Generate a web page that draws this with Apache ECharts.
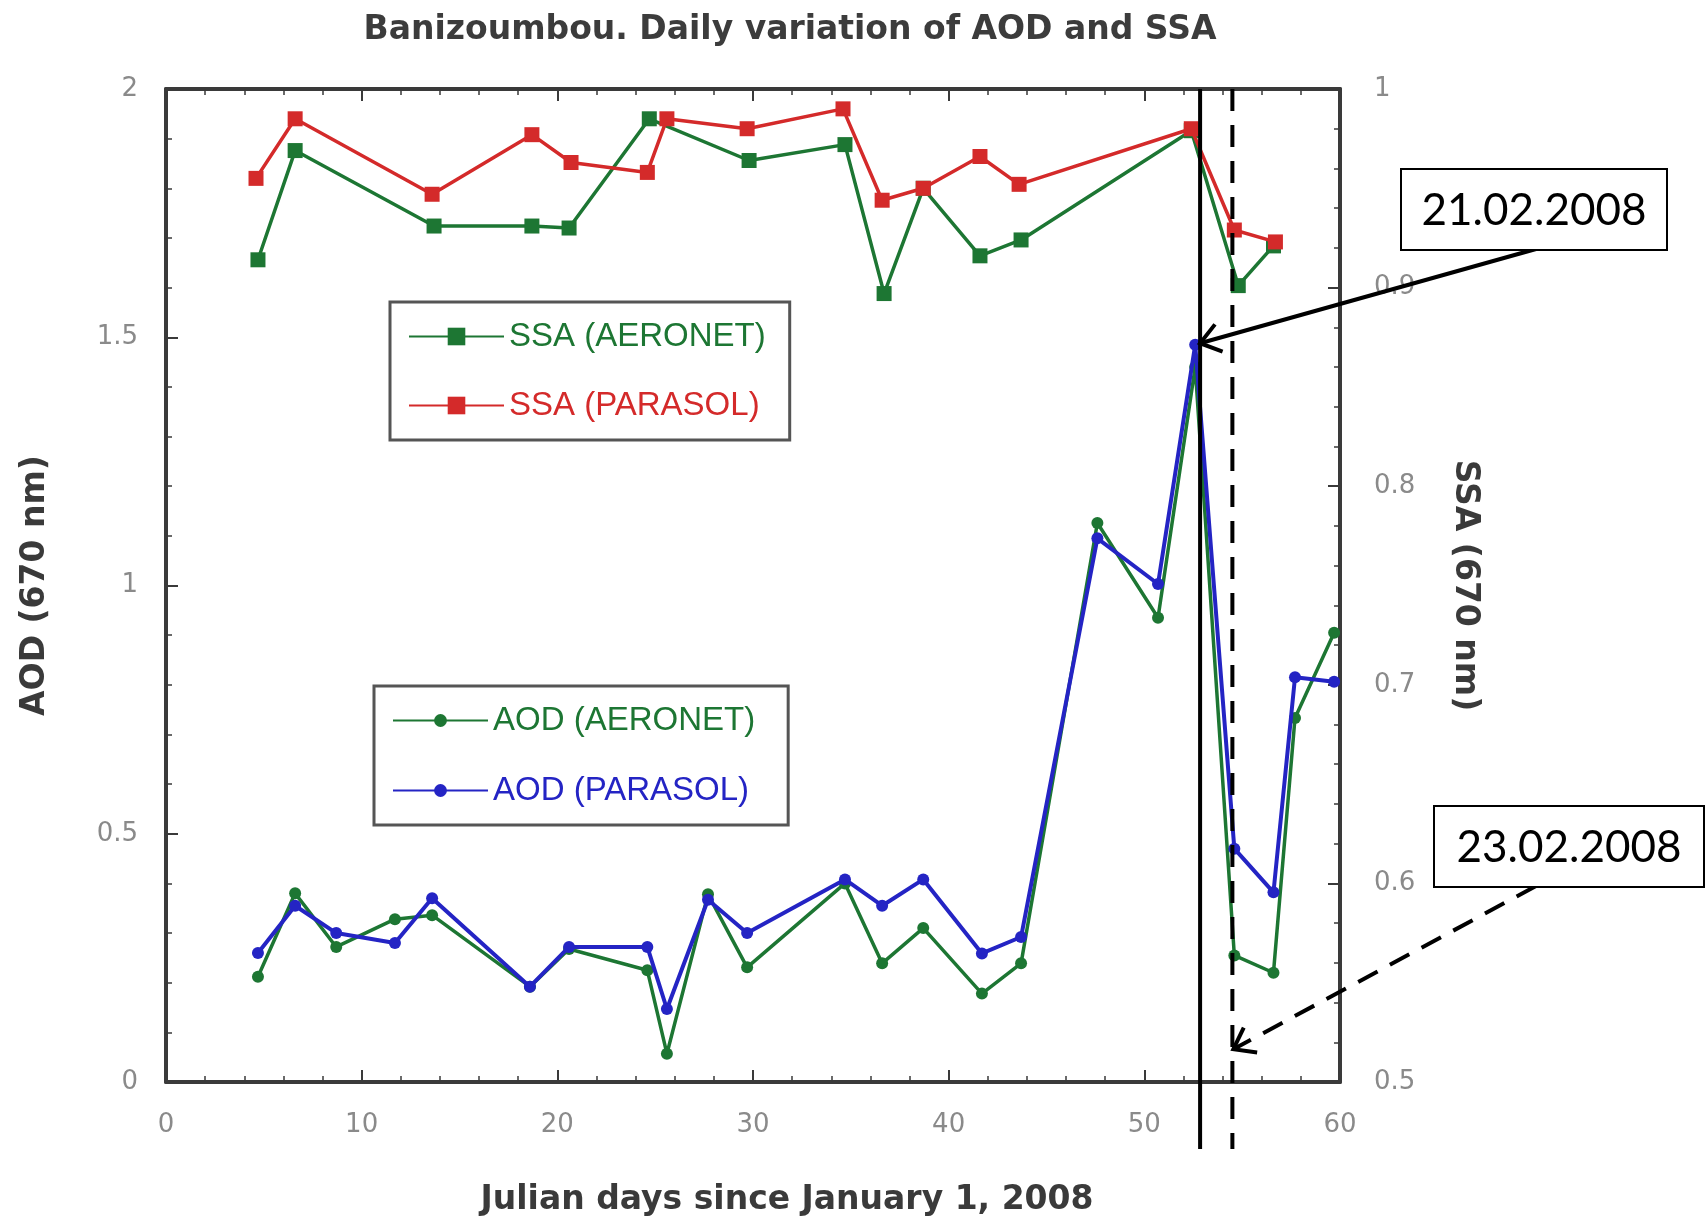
<!DOCTYPE html>
<html><head><meta charset="utf-8">
<script src="https://cdn.jsdelivr.net/npm/echarts/dist/echarts.min.js"></script>
<style>html,body{margin:0;padding:0;background:#fff;}#c{width:1708px;height:1223px;}</style>
</head><body><div id="c"></div>
<script>
// ---- data ----
const chartTitle = 'Banizoumbou. Daily variation of AOD and SSA';
const xName = 'Julian days since January 1, 2008';
const yLeftName = 'AOD (670 nm)';
const yRightName = 'SSA (670 nm)';

const ssaAeronetDays = [4.7, 6.6, 13.7, 18.7, 20.6, 24.7, 29.8, 34.7, 36.7, 38.7, 41.6, 43.7, 52.4, 54.8, 56.6];
const ssaAeronet     = [0.914, 0.969, 0.931, 0.931, 0.930, 0.985, 0.964, 0.972, 0.897, 0.950, 0.916, 0.924, 0.979, 0.901, 0.921];

const ssaParasolDays = [4.6, 6.6, 13.6, 18.7, 20.7, 24.6, 25.6, 29.7, 34.6, 36.6, 38.7, 41.6, 43.6, 52.4, 54.6, 56.7];
const ssaParasol     = [0.955, 0.985, 0.947, 0.977, 0.963, 0.958, 0.985, 0.980, 0.990, 0.944, 0.950, 0.966, 0.952, 0.980, 0.929, 0.923];

const aodDays    = [4.7, 6.6, 8.7, 11.7, 13.6, 18.6, 20.6, 24.6, 25.6, 27.7, 29.7, 34.7, 36.6, 38.7, 41.7, 43.7, 47.6, 50.7, 52.6, 54.6, 56.6, 57.7, 59.7];
const aodParasol = [0.26, 0.355, 0.30, 0.28, 0.37, 0.192, 0.272, 0.272, 0.147, 0.367, 0.30, 0.408, 0.355, 0.408, 0.259, 0.292, 1.095, 1.003, 1.485, 0.47, 0.382, 0.815, 0.806];
const aodAeronet = [0.212, 0.38, 0.272, 0.328, 0.336, 0.192, 0.268, 0.225, 0.057, 0.378, 0.231, 0.40, 0.239, 0.31, 0.178, 0.239, 1.126, 0.935, 1.44, 0.255, 0.22, 0.733, 0.905];

const seriesNames = ['SSA (AERONET)', 'SSA (PARASOL)', 'AOD (AERONET)', 'AOD (PARASOL)'];

// annotation dates (day positions of the vertical marker lines) and labels
const markDays = [52.85, 54.5];
const markLabels = ['21.02.2008', '23.02.2008'];
const arrowTargets = [[52.85, 1.488], [54.55, 0.066]]; // [day, AOD]

// ---- styles ----
const GREEN = '#1d7633', RED = '#d42a2a', BLUE = '#2424c4';
const AX = '#3a3a3a', TICKC = '#8a8a8a';
const FONT = '"Liberation Sans",Arial,sans-serif';
const BOLDFONT = '"DejaVu Sans","Liberation Sans",sans-serif';

const pairs = (xs, ys) => xs.map((x, i) => [x, ys[i]]);

const chart = echarts.init(document.getElementById('c'), null, {renderer: 'canvas'});

const commonTick = {show: true, inside: true, length: 12, lineStyle: {color: AX, width: 2}};
const commonMinor = {show: true, splitNumber: 5, length: 6, lineStyle: {color: AX, width: 1.5}};
const axLine = {show: true, onZero: false, lineStyle: {color: AX, width: 4}};
const tickLabel = {fontFamily: BOLDFONT, fontSize: 26, color: TICKC};
const nameStyle = {fontFamily: BOLDFONT, fontWeight: 'bold', fontSize: 33, color: '#3a3a3a'};

const option = {
  animation: false,
  backgroundColor: '#fff',
  title: {
    text: chartTitle, left: 785, top: 9, textAlign: 'center',
    textStyle: {fontFamily: BOLDFONT, fontWeight: 'bold', fontSize: 33, color: '#3c3c3c'}
  },
  grid: {left: 166, right: 368, top: 89, bottom: 141, containLabel: false, outerBoundsMode: 'none'},
  xAxis: [
    {
      type: 'value', min: 0, max: 60, interval: 10, position: 'bottom',
      name: xName, nameLocation: 'middle', nameGap: 102,
      nameTextStyle: Object.assign({}, nameStyle, {padding: [0, 0, 0, 68]}),
      axisLine: axLine, axisTick: commonTick, minorTick: commonMinor,
      splitLine: {show: false},
      axisLabel: Object.assign({}, tickLabel, {margin: 30})
    },
    {
      type: 'value', min: 0, max: 60, interval: 10, position: 'top',
      axisLine: axLine, axisTick: commonTick, minorTick: commonMinor,
      splitLine: {show: false}, axisLabel: {show: false}
    }
  ],
  yAxis: [
    {
      type: 'value', min: 0, max: 2, interval: 0.5, position: 'left',
      name: yLeftName, nameLocation: 'middle', nameGap: 114,
      nameTextStyle: nameStyle,
      axisLine: axLine, axisTick: commonTick, minorTick: commonMinor,
      splitLine: {show: false},
      axisLabel: Object.assign({}, tickLabel, {margin: 28})
    },
    {
      type: 'value', min: 0.5, max: 1, interval: 0.1, position: 'right',
      name: yRightName, nameLocation: 'middle', nameGap: 108, nameRotate: -90,
      nameTextStyle: nameStyle,
      axisLine: axLine, axisTick: commonTick, minorTick: commonMinor,
      splitLine: {show: false},
      axisLabel: Object.assign({}, tickLabel, {margin: 34})
    }
  ],
  legend: [
    {
      selectedMode: false, orient: 'vertical', left: 390, top: 302,
      data: [
        {name: seriesNames[0], textStyle: {color: GREEN}},
        {name: seriesNames[1], textStyle: {color: RED}}
      ],
      itemWidth: 95, itemHeight: 22, itemGap: 36,
      padding: [18, 24, 18, 18],
      borderColor: '#555', borderWidth: 3, backgroundColor: '#fff',
      textStyle: {fontFamily: FONT, fontSize: 33}
    },
    {
      selectedMode: false, orient: 'vertical', left: 374, top: 686,
      data: [
        {name: seriesNames[2], textStyle: {color: GREEN}},
        {name: seriesNames[3], textStyle: {color: BLUE}}
      ],
      itemWidth: 95, itemHeight: 16, itemGap: 37,
      padding: [18, 33, 18, 18],
      borderColor: '#555', borderWidth: 3, backgroundColor: '#fff',
      textStyle: {fontFamily: FONT, fontSize: 33}
    }
  ],
  series: [
    {
      name: seriesNames[0], type: 'line', xAxisIndex: 0, yAxisIndex: 1,
      data: pairs(ssaAeronetDays, ssaAeronet),
      symbol: 'rect', symbolSize: 15, showAllSymbol: true,
      lineStyle: {color: GREEN, width: 3.5}, itemStyle: {color: GREEN}, z: 2
    },
    {
      name: seriesNames[1], type: 'line', xAxisIndex: 0, yAxisIndex: 1,
      data: pairs(ssaParasolDays, ssaParasol),
      symbol: 'rect', symbolSize: 15, showAllSymbol: true,
      lineStyle: {color: RED, width: 3.5}, itemStyle: {color: RED}, z: 3
    },
    {
      name: seriesNames[2], type: 'line', xAxisIndex: 0, yAxisIndex: 0,
      data: pairs(aodDays, aodAeronet),
      symbol: 'circle', symbolSize: 12, showAllSymbol: true,
      lineStyle: {color: GREEN, width: 3.5}, itemStyle: {color: GREEN}, z: 4
    },
    {
      name: seriesNames[3], type: 'line', xAxisIndex: 0, yAxisIndex: 0,
      data: pairs(aodDays, aodParasol),
      symbol: 'circle', symbolSize: 12, showAllSymbol: true,
      lineStyle: {color: BLUE, width: 4}, itemStyle: {color: BLUE}, z: 5
    }
  ]
};
chart.setOption(option);

// ---- annotations (positions derived from the axes) ----
const P = (x, y) => chart.convertToPixel({xAxisIndex: 0, yAxisIndex: 0}, [x, y]);
const g = [];
const boxes = [
  {x: 1401, y: 169, w: 266, h: 81},
  {x: 1434, y: 806, w: 270, h: 81}
];
const arrowStarts = [[1536, 249], [1536, 886]];

markDays.forEach((d, i) => {
  const top = P(d, 2), bot = P(d, 0);
  g.push({
    type: 'line', z: 100,
    shape: {x1: top[0], y1: top[1], x2: bot[0], y2: bot[1] + 67},
    style: {stroke: '#000', lineWidth: 4, lineDash: i === 1 ? [22, 14] : null}
  });
});

arrowTargets.forEach((t, i) => {
  const e = P(t[0], t[1]);
  const s = arrowStarts[i];
  g.push({
    type: 'line', z: 101,
    shape: {x1: s[0], y1: s[1], x2: e[0], y2: e[1]},
    style: {stroke: '#000', lineWidth: 4, lineDash: i === 1 ? [22, 14] : null}
  });
  const dx = s[0] - e[0], dy = s[1] - e[1], L = Math.hypot(dx, dy);
  const ux = dx / L, uy = dy / L, len = 24, a = Math.PI / 5;
  const r = (ang) => [e[0] + len * (ux * Math.cos(ang) - uy * Math.sin(ang)), e[1] + len * (ux * Math.sin(ang) + uy * Math.cos(ang))];
  g.push({
    type: 'polyline', z: 101,
    shape: {points: [r(a), e, r(-a)]},
    style: {stroke: '#000', lineWidth: 4, fill: null}
  });
});

boxes.forEach((b, i) => {
  g.push({
    type: 'rect', z: 102,
    shape: {x: b.x, y: b.y, width: b.w, height: b.h},
    style: {fill: '#fff', stroke: '#000', lineWidth: 2}
  });
  g.push({
    type: 'text', z: 103,
    x: b.x + b.w / 2, y: b.y + b.h / 2 + 1,
    style: {text: markLabels[i], fill: '#000', font: '44px Lato, "Open Sans", sans-serif', align: 'center', verticalAlign: 'middle'}
  });
});

chart.setOption({graphic: g});
</script>
</body></html>
